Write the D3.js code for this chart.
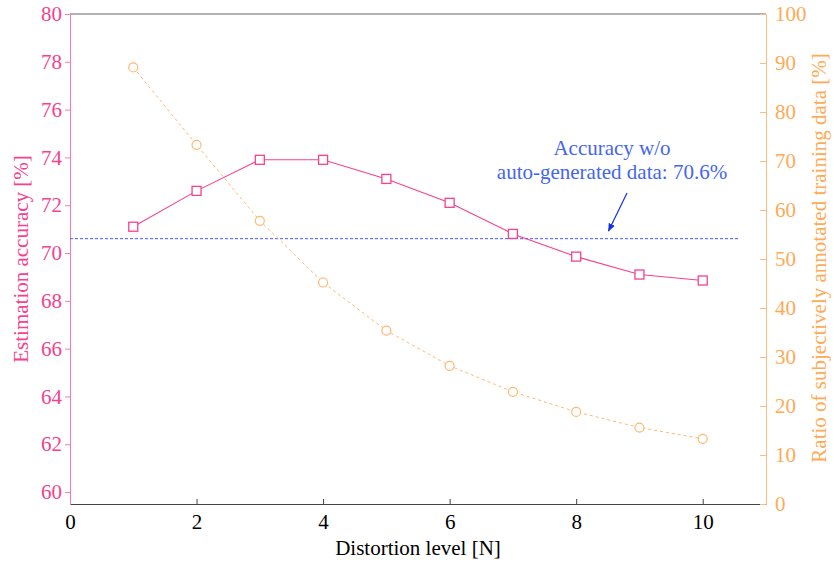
<!DOCTYPE html>
<html>
<head>
<meta charset="utf-8">
<script src="https://cdn.jsdelivr.net/npm/d3@7"></script>
<style>
  body { margin: 0; background: #fff; }
</style>
</head>
<body>
<div id="chart"></div>
<script>
// distortion levels and the two series
const levels = [1, 2, 3, 4, 5, 6, 7, 8, 9, 10];
const accuracy = [71.1, 72.6, 73.9, 73.9, 73.1, 72.1, 70.8, 69.85, 69.1, 68.85];
const ratio = [89.1, 73.3, 57.8, 45.2, 35.4, 28.2, 22.9, 18.8, 15.6, 13.3];
const baseline = 70.6;
const xTicks = [0, 2, 4, 6, 8, 10];
const leftTicks = [60, 62, 64, 66, 68, 70, 72, 74, 76, 78, 80];
const rightTicks = [0, 10, 20, 30, 40, 50, 60, 70, 80, 90, 100];
const noteLines = ['Accuracy w/o', 'auto-generated data: 70.6%'];

const width = 834, height = 563;
const pink = '#f5428f', orange = '#ffaa55';
const serif = "'Liberation Serif', 'Times New Roman', 'DejaVu Serif', serif";

const svg = d3.select('#chart').append('svg').attr('width', width).attr('height', height)
    .style('font-family', serif);

let x = d3.scaleLinear().domain([0, 11]).range([70, 766]);
let yL = d3.scaleLinear().domain([59.5, 80]).range([504, 14]);
let yR = d3.scaleLinear().domain([0, 100]).range([504, 14]);

// frame
svg.append('line').attr('x1', 70).attr('x2', 766).attr('y1', 14).attr('y2', 14)
    .attr('stroke', '#666').attr('stroke-width', 1);

// x axis
let xAxis = svg.append('g').attr('transform', 'translate(0,504)')
    .call(d3.axisBottom(x).tickValues(xTicks).tickSizeInner(-5).tickSizeOuter(0).tickPadding(10));
xAxis.select('.domain').attr('stroke', '#444');
xAxis.selectAll('.tick line').attr('stroke', '#444');
xAxis.selectAll('text').attr('font-size', 21).attr('fill', '#000');

// left axis
let lAxis = svg.append('g').attr('transform', 'translate(70,0)')
    .call(d3.axisLeft(yL).tickValues(leftTicks).tickSizeInner(5).tickSizeOuter(0).tickPadding(3));
lAxis.select('.domain').attr('stroke', '#ff77b0');
lAxis.selectAll('.tick line').attr('stroke', '#ff77b0');
lAxis.selectAll('text').attr('font-size', 21).attr('fill', pink);

// right axis, ticks pointing inside
let rAxis = svg.append('g').attr('transform', 'translate(766,0)')
    .call(d3.axisRight(yR).tickValues(rightTicks).tickSizeInner(-6).tickSizeOuter(0).tickPadding(9));
rAxis.select('.domain').attr('stroke', '#ffbb80');
rAxis.selectAll('.tick line').attr('stroke', '#ffbb80');
rAxis.selectAll('text').attr('font-size', 21).attr('fill', orange);

svg.selectAll('g').attr('font-family', serif);

// axis titles
svg.append('text').attr('transform', 'translate(28,259) rotate(-90)')
    .attr('text-anchor', 'middle').attr('font-size', 21).attr('fill', pink)
    .text('Estimation accuracy [%]');
svg.append('text').attr('transform', 'translate(826,258) rotate(-90)')
    .attr('text-anchor', 'middle').attr('font-size', 21).attr('fill', orange)
    .text('Ratio of subjectively annotated training data [%]');
svg.append('text').attr('x', 418).attr('y', 555)
    .attr('text-anchor', 'middle').attr('font-size', 21).attr('fill', '#000')
    .text('Distortion level [N]');

// baseline
svg.append('line').attr('x1', x(0)).attr('x2', 740)
    .attr('y1', yL(baseline)).attr('y2', yL(baseline))
    .attr('stroke', '#4455ff').attr('stroke-width', 1).attr('stroke-dasharray', '3,2');

// ratio series
let ratioData = levels.map((l, i) => ({x: l, y: ratio[i]}));
svg.append('path').datum(ratioData)
    .attr('d', d3.line().x(d => x(d.x)).y(d => yR(d.y)))
    .attr('fill', 'none').attr('stroke', '#ffb870').attr('stroke-width', 1)
    .attr('stroke-dasharray', '3,3');
svg.selectAll('circle.ratio').data(ratioData).enter().append('circle')
    .attr('class', 'ratio')
    .attr('cx', d => x(d.x)).attr('cy', d => yR(d.y)).attr('r', 4.5)
    .attr('fill', '#fff').attr('stroke', '#ffb870').attr('stroke-width', 1.2);

// accuracy series
let accData = levels.map((l, i) => ({x: l, y: accuracy[i]}));
svg.append('path').datum(accData)
    .attr('d', d3.line().x(d => x(d.x)).y(d => yL(d.y)))
    .attr('fill', 'none').attr('stroke', pink).attr('stroke-width', 1.1);
svg.selectAll('rect.acc').data(accData).enter().append('rect')
    .attr('class', 'acc')
    .attr('x', d => x(d.x) - 4.5).attr('y', d => yL(d.y) - 4.5)
    .attr('width', 9).attr('height', 9)
    .attr('fill', '#fff').attr('stroke', pink).attr('stroke-width', 1.3);

// annotation
svg.append('text').attr('x', 612).attr('text-anchor', 'middle')
    .attr('font-size', 21).attr('fill', '#4466ee')
    .selectAll('tspan').data(noteLines).enter().append('tspan')
    .attr('x', 612).attr('y', (d, i) => 155 + i * 24).text(d => d);

svg.append('defs').append('marker').attr('id', 'arr')
    .attr('viewBox', '0 0 10 10').attr('refX', 9).attr('refY', 5)
    .attr('markerWidth', 7).attr('markerHeight', 7).attr('orient', 'auto')
    .append('path').attr('d', 'M0,1 L10,5 L0,9 Z').attr('fill', '#1133dd');
svg.append('line').attr('x1', 627).attr('y1', 193).attr('x2', 608.5).attr('y2', 231)
    .attr('stroke', '#1133dd').attr('stroke-width', 1.2).attr('marker-end', 'url(#arr)');
</script>
</body>
</html>
